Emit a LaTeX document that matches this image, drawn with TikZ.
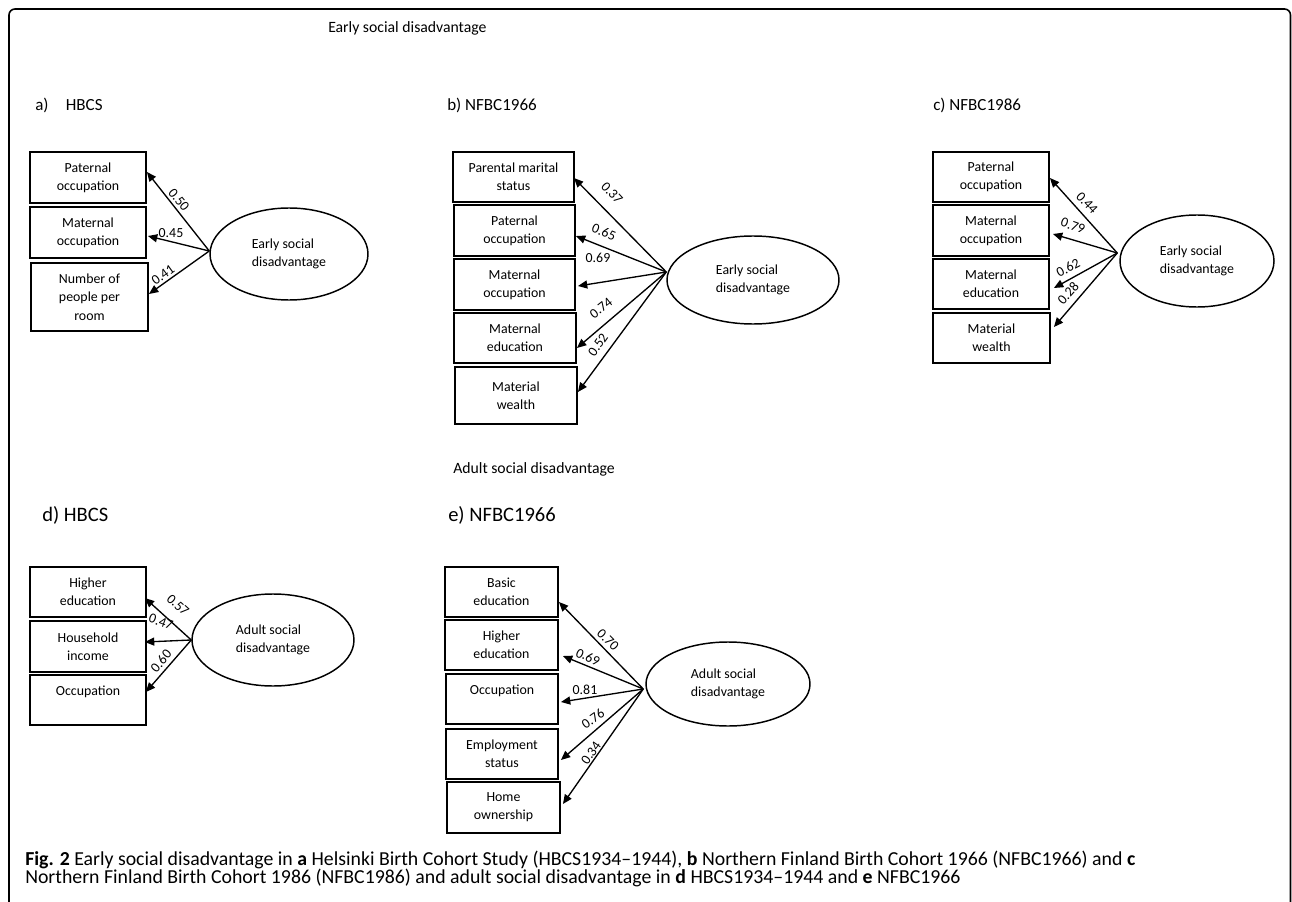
\documentclass[tikz,border=0pt]{standalone}
\usepackage{fontspec}
\setmainfont{Carlito}
\usetikzlibrary{arrows.meta,shapes.geometric}
\tikzset{
  varbox/.style={draw, line width=1.4pt, inner sep=0pt, align=center, font=\fontsize{10.4}{13.7}\selectfont},
  latent/.style={draw, ellipse, line width=1.1pt, inner sep=0pt, align=left, font=\fontsize{10.4}{13.2}\selectfont},
  arr/.style={-{Triangle[length=7pt,width=6pt]}, line width=1pt},
  coef/.style={inner sep=0pt, font=\fontsize{10.4}{12}\selectfont},
  panel/.style={anchor=west, inner sep=0pt, font=\fontsize{12.75}{14}\selectfont},
  panelbig/.style={anchor=west, inner sep=0pt, font=\fontsize{15.4}{17}\selectfont},
  heading/.style={anchor=west, inner sep=0pt, font=\fontsize{11.8}{14}\selectfont},
  capline/.style={anchor=base west, inner sep=0pt, font=\fontsize{14.85}{16}\selectfont},
  frame/.style={line width=1.2pt, rounded corners=4.5pt}
}
\begin{document}
\begin{tikzpicture}[x=0.75pt,y=-0.75pt]
\useasboundingbox (0,0) rectangle (1292,902);
\draw[frame] (9,902) -- (9,9) -- (1290.5,9) -- (1290.5,902);

% headings
\node[heading] (t1) at (328,28) {Early social disadvantage};
\node[panel] (la) at (35,105) {a)\hspace{13pt}HBCS};
\node[panel] (lb) at (447,105) {b) NFBC1966};
\node[panel] (lc) at (933,105) {c) NFBC1986};
\node[heading] (t2) at (453,469) {Adult social disadvantage};
\node[panelbig] (ld) at (42,515) {d) HBCS};
\node[panelbig] (le) at (448,515) {e) NFBC1966};

% ---------- panel a
\node[varbox, minimum width=87pt, minimum height=38.25pt] (a1) at (88,177.5) {Paternal\\occupation};
\node[varbox, minimum width=87pt, minimum height=38.25pt] (a2) at (88,232.5) {Maternal\\occupation};
\node[varbox, minimum width=87.75pt, minimum height=51pt] (a3) at (89.5,297) {Number of\\people per\\room};
\node[latent, minimum width=118.5pt, minimum height=69pt] (ea) at (289,254) {Early social\\disadvantage};
\draw[arr] ([shift={(0,-3)}]ea.west) -- ([shift={(0,-5.5)}]a1.east);
\draw[arr] ([shift={(0,-3)}]ea.west) -- ([shift={(1,3.5)}]a2.east);
\draw[arr] ([shift={(0,-3)}]ea.west) -- ([shift={(0,-3)}]a3.east);
\node[coef, rotate=-50] (ca1) at (179,200) {0.50};
\node[coef] (ca2) at (171,233) {0.45};
\node[coef, rotate=36] (ca3) at (163,275) {0.41};

% ---------- panel b
\node[varbox, minimum width=90.75pt, minimum height=37.5pt] (b1) at (513.5,177) {Parental marital\\status};
\node[varbox, minimum width=90.75pt, minimum height=38.25pt] (b2) at (514.5,230.5) {Paternal\\occupation};
\node[varbox, minimum width=90.75pt, minimum height=38.25pt] (b3) at (514.5,284.5) {Maternal\\occupation};
\node[varbox, minimum width=91.5pt, minimum height=37.5pt] (b4) at (515,338) {Maternal\\education};
\node[varbox, minimum width=91.5pt, minimum height=42.75pt] (b5) at (516,395.5) {Material\\wealth};
\node[latent, minimum width=129pt, minimum height=66pt] (eb) at (753,280) {Early social\\disadvantage};
\draw[arr] ([shift={(0,-8)}]eb.west) -- ([shift={(-1,1)}]b1.east);
\draw[arr] ([shift={(0,-8)}]eb.west) -- ([shift={(0,5.5)}]b2.east);
\draw[arr] ([shift={(0,-8)}]eb.west) -- ([shift={(2,1.5)}]b3.east);
\draw[arr] ([shift={(0,-8)}]eb.west) -- ([shift={(0,10)}]b4.east);
\draw[arr] ([shift={(0,-8)}]eb.west) -- ([shift={(0,-3.5)}]b5.east);
\node[coef, rotate=-47] (cb1) at (612,193) {0.37};
\node[coef, rotate=-22] (cb2) at (604,232) {0.65};
\node[coef] (cb3) at (598,258) {0.69};
\node[coef, rotate=38] (cb4) at (601,308) {0.74};
\node[coef, rotate=55] (cb5) at (598,345) {0.52};

% ---------- panel c
\node[varbox, minimum width=87pt, minimum height=37.5pt] (c1) at (991,177) {Paternal\\occupation};
\node[varbox, minimum width=87pt, minimum height=38.25pt] (c2) at (991,230.5) {Maternal\\occupation};
\node[varbox, minimum width=87pt, minimum height=37.5pt] (c3) at (991,284) {Maternal\\education};
\node[varbox, minimum width=87.75pt, minimum height=37.5pt] (c4) at (991.5,338) {Material\\wealth};
\node[latent, minimum width=115.5pt, minimum height=69pt] (ec) at (1197,261) {Early social\\disadvantage};
\draw[arr] ([shift={(-2,-8)}]ec.west) -- ([shift={(0,1)}]c1.east);
\draw[arr] ([shift={(-2,-8)}]ec.west) -- ([shift={(3,3.5)}]c2.east);
\draw[arr] ([shift={(-2,-8)}]ec.west) -- ([shift={(4,4)}]c3.east);
\draw[arr] ([shift={(-2,-8)}]ec.west) -- ([shift={(3,-11)}]c4.east);
\node[coef, rotate=-47] (cc1) at (1087,203) {0.44};
\node[coef, rotate=-20] (cc2) at (1073,226) {0.79};
\node[coef, rotate=28] (cc3) at (1068,268) {0.62};
\node[coef, rotate=48] (cc4) at (1068,293) {0.28};

% ---------- panel d
\node[varbox, minimum width=87pt, minimum height=37.5pt] (d1) at (88,592) {Higher\\education};
\node[varbox, minimum width=87pt, minimum height=38.25pt] (d2) at (88,646.5) {Household\\income};
\node[varbox, minimum width=87pt, minimum height=37.5pt] (d3) at (88,700) {Occupation\\\mbox{}};
\node[latent, minimum width=121.5pt, minimum height=69pt] (ed) at (273,640) {Adult social\\disadvantage};
\draw[arr] (ed.west) -- ([shift={(-2,6)}]d1.east);
\draw[arr] (ed.west) -- ([shift={(-2,-4.5)}]d2.east);
\draw[arr] (ed.west) -- ([shift={(-1,-8)}]d3.east);
\node[coef, rotate=-42] (cd1) at (178,605) {0.57};
\node[coef, rotate=-20] (cd2) at (161,622) {0.47};
\node[coef, rotate=50] (cd3) at (161,661) {0.60};

% ---------- panel e
\node[varbox, minimum width=84.75pt, minimum height=37.5pt] (e1) at (501.5,592) {Basic\\education};
\node[varbox, minimum width=84.75pt, minimum height=37.5pt] (e2) at (501.5,645) {Higher\\education};
\node[varbox, minimum width=84pt, minimum height=37.5pt] (e3) at (502,699) {Occupation\\\mbox{}};
\node[varbox, minimum width=84pt, minimum height=37.5pt] (e4) at (502,754) {Employment\\status};
\node[varbox, minimum width=84.75pt, minimum height=38.25pt] (e5) at (503.5,807.5) {Home\\ownership};
\node[latent, minimum width=123pt, minimum height=63pt] (ee) at (728,684) {Adult social\\disadvantage};
\draw[arr] ([shift={(-2,5)}]ee.west) -- ([shift={(0,10)}]e1.east);
\draw[arr] ([shift={(-2,5)}]ee.west) -- ([shift={(4,11)}]e2.east);
\draw[arr] ([shift={(-2,5)}]ee.west) -- ([shift={(2,3)}]e3.east);
\draw[arr] ([shift={(-2,5)}]ee.west) -- ([shift={(2,6)}]e4.east);
\draw[arr] ([shift={(-2,5)}]ee.west) -- ([shift={(2,-3.5)}]e5.east);
\node[coef, rotate=-45] (ce1) at (608,640) {0.70};
\node[coef, rotate=-25] (ce2) at (588,657) {0.69};
\node[coef] (ce3) at (585,690) {0.81};
\node[coef, rotate=35] (ce4) at (593,719) {0.76};
\node[coef, rotate=55] (ce5) at (591,753) {0.34};

% caption
\node[capline] (cap1) at (25,865) {\textbf{Fig. 2} Early social disadvantage in \textbf{a} Helsinki Birth Cohort Study (HBCS1934–1944), \textbf{b} Northern Finland Birth Cohort 1966 (NFBC1966) and \textbf{c}};
\node[capline] (cap2) at (25,883) {Northern Finland Birth Cohort 1986 (NFBC1986) and adult social disadvantage in \textbf{d} HBCS1934–1944 and \textbf{e} NFBC1966};
\end{tikzpicture}
\end{document}
